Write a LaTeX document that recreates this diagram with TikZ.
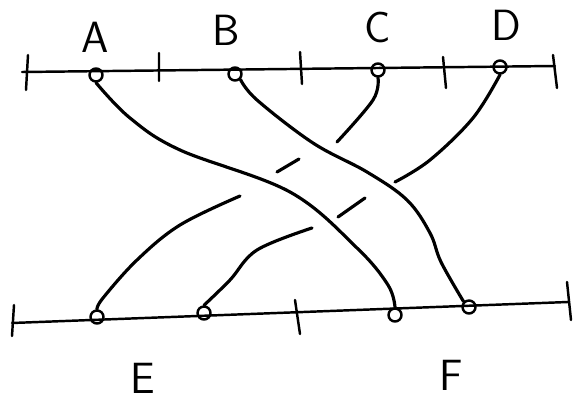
\documentclass[tikz,border=0pt]{standalone}
\begin{document}
\begin{tikzpicture}[x=.2mm, y=-.2mm, font=\Huge\sffamily, line join=round, line cap=round,
	dot/.style={draw, circle, line width=1.4pt, minimum size=2.6mm, inner sep=0pt},
	strand/.style={line width=1.8pt},
	ruler/.style={line width=1.4pt}]
	\useasboundingbox (0,0) rectangle (581,412);
	% end points of the two lines
	\path 
	(22,72) coordinate (TL)
	(555,66) coordinate (TR)
	(12,323) coordinate (BL)
	(568,302) coordinate (BR)
	;
	\draw[ruler] (TL)--(TR) (BL)--(BR);
	% end marks and ticks
	\draw[ruler] (28,55)--(26,90) (553,55)--(557,88)
	(159,53)--(159,81) (300,52)--(302,84) (443,57)--(446,88);
	\draw[ruler] (14,305)--(12,336) (567,282)--(571,320) (295,300)--(300,334);
	% top points
	\node[dot] (A) at (96,75) {};
	\node[dot] (B) at (235,74) {};
	\node[dot] (C) at (378,70) {};
	\node[dot] (D) at (500,67) {};
	% bottom points
	\node[dot] (E1) at (97,317) {};
	\node[dot] (E2) at (204,313) {};
	\node[dot] (F1) at (395,315) {};
	\node[dot] (F2) at (469,307) {};
	% labels
	\node (lA) at (95,37) {A};
	\node (lB) at (226,30) {B};
	\node (lC) at (378,27) {C};
	\node (lD) at (506,25) {D};
	\node (lE) at (143,378) {E};
	\node (lF) at (451,375) {F};
	% over strands
	\draw[strand] plot[smooth, tension=.6] coordinates {(A.south) (130,118) (180,150) (290,192) (357,248) (388,285) (F1.north)};
	\draw[strand] plot[smooth, tension=.6] coordinates {(B.south east) (257,100) (313,143) (367,172) (407,200) (430,233) (441,262) (F2.north west)};
	% under strands
	\draw[strand] plot[smooth, tension=.6] coordinates {(C.south) (373,100) (337,142)};
	\draw[strand] (299,159)--(277,172);
	\draw[strand] plot[smooth, tension=.6] coordinates {(240,196) (180,225) (137,260) (103,298) (E1.north)};
	\draw[strand] plot[smooth, tension=.6] coordinates {(D.south) (473,118) (430,160) (395,182)};
	\draw[strand] (365,198)--(338,217);
	\draw[strand] plot[smooth, tension=.6] coordinates {(312,228) (257,250) (230,280) (E2.north)};
\end{tikzpicture}
\end{document}
